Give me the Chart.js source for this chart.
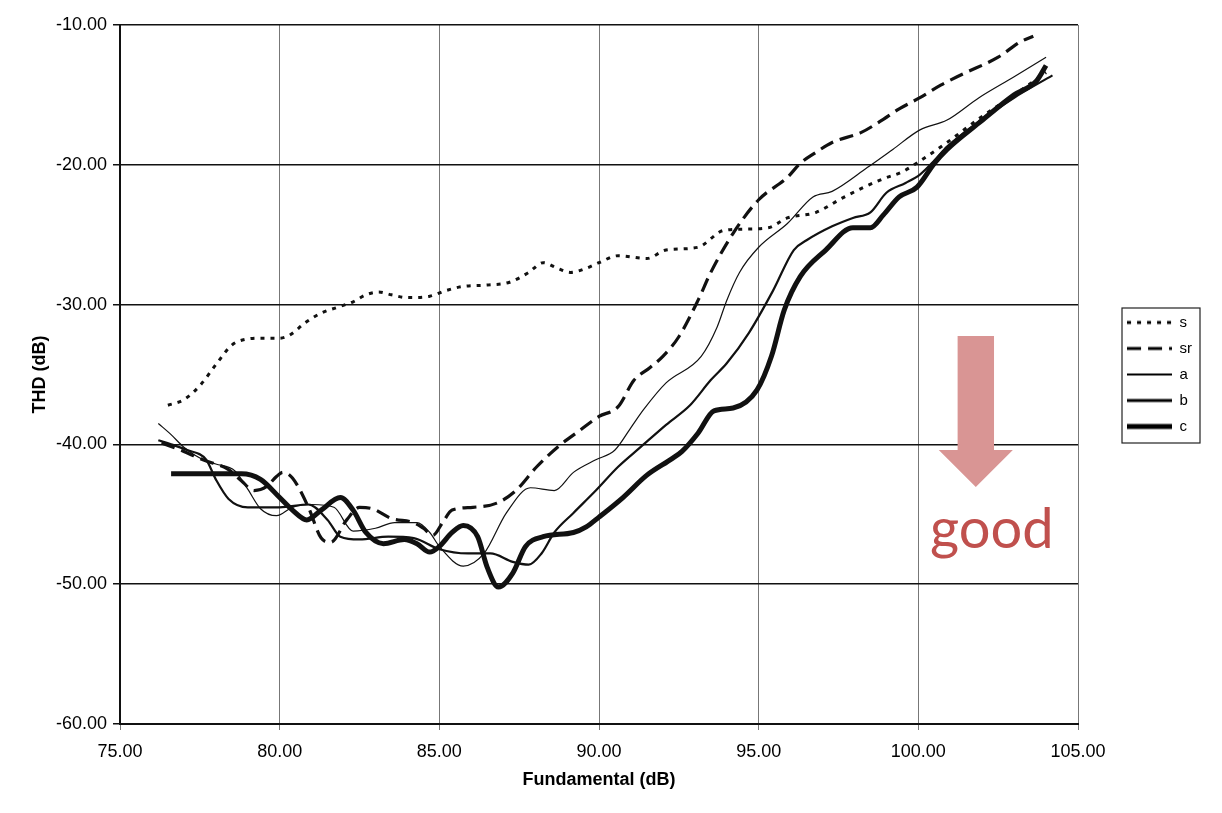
<!DOCTYPE html>
<html>
<head>
<meta charset="utf-8">
<title>THD vs Fundamental</title>
<script src="https://cdn.jsdelivr.net/npm/chart.js@4.4.1/dist/chart.umd.min.js"></script>
<style>
  html, body { margin: 0; padding: 0; background: #fff; }
</style>
</head>
<body>
<canvas id="thd" width="1222" height="813"></canvas>
<script>
// values, [fundamental dB, THD dB]
const seriesNames = ["s", "sr", "a", "b", "c"];

const sPts = [[76.5,-37.2],[77.0,-36.8],[77.5,-35.8],[78.0,-34.3],[78.5,-32.9],[78.9,-32.5],[79.5,-32.4],[80.0,-32.4],
  [80.3,-32.2],[80.8,-31.3],[81.3,-30.6],[81.8,-30.2],[82.3,-29.8],[82.7,-29.3],[83.1,-29.1],[83.5,-29.3],[84.0,-29.5],
  [84.7,-29.4],[85.2,-29.0],[85.75,-28.7],[86.5,-28.6],[87.2,-28.4],[87.8,-27.7],[88.25,-27.0],[88.7,-27.4],[89.1,-27.7],
  [89.6,-27.4],[90.0,-27.0],[90.6,-26.5],[91.5,-26.7],[92.1,-26.1],[93.1,-25.9],[93.9,-24.7],[94.6,-24.6],[95.3,-24.5],
  [95.9,-23.8],[96.8,-23.4],[97.6,-22.4],[98.3,-21.6],[98.9,-21.0],[99.5,-20.5],[100.0,-19.8],[100.9,-18.4],[101.9,-16.7],
  [103.0,-15.0],[104.0,-13.4]];

const srPts = [[76.3,-39.9],[77.0,-40.5],[77.6,-41.1],[78.4,-41.8],[78.8,-42.6],[79.2,-43.3],[79.6,-43.0],[79.9,-42.3],
  [80.1,-42.0],[80.4,-42.4],[80.9,-44.5],[81.3,-46.7],[81.6,-47.0],[82.1,-45.4],[82.5,-44.5],[82.9,-44.6],[83.5,-45.3],
  [84.2,-45.6],[84.5,-46.0],[84.8,-46.5],[85.1,-45.6],[85.4,-44.7],[86.05,-44.5],[86.8,-44.2],[87.4,-43.3],[88.05,-41.6],
  [88.7,-40.2],[89.4,-39.0],[90.0,-38.0],[90.6,-37.3],[91.1,-35.4],[91.6,-34.5],[92.0,-33.7],[92.5,-32.3],[93.1,-29.7],
  [93.5,-27.7],[94.2,-24.9],[95.0,-22.5],[95.9,-20.9],[96.3,-19.9],[96.8,-19.1],[97.3,-18.4],[98.2,-17.7],[98.8,-16.9],
  [99.4,-16.0],[100.05,-15.2],[100.7,-14.3],[101.4,-13.5],[102.5,-12.3],[103.2,-11.2],[103.6,-10.8]];

const aPts = [[76.2,-38.5],[76.6,-39.3],[77.0,-40.2],[77.6,-41.1],[78.0,-41.4],[78.6,-41.9],[79.0,-43.2],[79.4,-44.6],
  [79.9,-45.1],[80.4,-44.5],[81.0,-44.3],[81.7,-44.5],[82.3,-46.2],[83.0,-46.0],[83.6,-45.6],[84.3,-45.6],[84.7,-46.3],
  [85.0,-47.3],[85.75,-48.7],[86.4,-47.8],[87.1,-44.9],[87.85,-43.1],[88.6,-43.3],[89.2,-42.0],[89.9,-41.1],[90.5,-40.4],
  [91.0,-38.8],[91.4,-37.5],[92.1,-35.6],[93.2,-33.7],[93.7,-31.6],[94.0,-29.7],[94.4,-27.7],[95.0,-25.9],[95.9,-24.2],
  [96.7,-22.3],[97.3,-21.9],[98.4,-20.2],[99.2,-18.9],[100.05,-17.5],[100.9,-16.8],[101.9,-15.2],[103.0,-13.7],[104.0,-12.3]];

const bPts = [[76.2,-39.7],[76.6,-40.0],[77.1,-40.4],[77.7,-41.1],[78.0,-42.5],[78.4,-43.9],[79.0,-44.5],[80.0,-44.5],
  [80.9,-44.3],[81.5,-45.4],[81.9,-46.6],[82.5,-46.8],[83.4,-46.6],[84.2,-46.7],[85.0,-47.5],[85.9,-47.8],[86.6,-47.8],
  [87.3,-48.4],[87.8,-48.6],[88.2,-47.8],[88.6,-46.3],[89.2,-44.9],[89.9,-43.3],[90.6,-41.6],[91.3,-40.2],[92.1,-38.6],
  [92.85,-37.2],[93.5,-35.4],[94.0,-34.2],[94.7,-32.0],[95.45,-29.0],[96.1,-26.1],[96.5,-25.4],[97.3,-24.4],[97.95,-23.8],
  [98.5,-23.4],[99.0,-22.0],[99.6,-21.3],[100.05,-20.7],[100.5,-19.7],[100.9,-18.7],[101.9,-16.9],[103.0,-15.2],[104.2,-13.6]];

const cPts = [[76.6,-42.1],[77.5,-42.1],[78.3,-42.1],[78.8,-42.1],[79.4,-42.5],[80.0,-43.8],[80.4,-44.7],[80.85,-45.4],
  [81.3,-44.7],[81.9,-43.8],[82.3,-44.7],[82.7,-46.3],[83.25,-47.1],[83.9,-46.8],[84.3,-47.1],[84.7,-47.7],[85.0,-47.3],
  [85.4,-46.3],[85.75,-45.8],[86.2,-46.6],[86.5,-48.8],[86.85,-50.2],[87.3,-49.2],[87.7,-47.3],[88.25,-46.6],[89.2,-46.3],
  [89.6,-45.9],[90.0,-45.2],[90.75,-43.8],[91.5,-42.2],[92.3,-41.0],[92.6,-40.5],[93.1,-39.2],[93.6,-37.6],[94.2,-37.4],
  [94.95,-36.1],[95.4,-33.7],[95.8,-30.4],[96.3,-28.0],[97.1,-26.1],[97.95,-24.5],[98.5,-24.5],[98.9,-23.6],[99.4,-22.3],
  [99.96,-21.6],[100.5,-19.9],[100.9,-18.9],[101.9,-17.0],[103.0,-15.0],[103.7,-14.0],[104.0,-12.9]];

const allPts = [sPts, srPts, aPts, bPts, cPts];
const lineWidths = [3, 3.2, 1.2, 2.2, 5];
const legendWidths = [3, 3.2, 1.8, 2.8, 5];
const lineDashes = [[4, 6], [14, 7], [], [], []];

const xTicks = [75, 80, 85, 90, 95, 100, 105];
const yTicks = [-60, -50, -40, -30, -20, -10];

// "good" arrow, in data units
const arrow = { x: 101.8, top: -32.25, neck: -40.4, tip: -43.05, shaft: 0.57, head: 1.16 };
const goodLabel = { text: "good", x: 102.3, y: -47.4 };

const toXY = pts => pts.map(p => ({ x: p[0], y: p[1] }));

// little line samples for the legend, so the dashes show there too
function legendSample(i) {
  const c = document.createElement("canvas");
  c.width = 45;
  c.height = 8;
  const g = c.getContext("2d");
  g.strokeStyle = "#000";
  g.lineWidth = legendWidths[i];
  g.setLineDash(lineDashes[i]);
  g.beginPath();
  g.moveTo(0, 4);
  g.lineTo(45, 4);
  g.stroke();
  return c;
}

const legendBox = {
  id: "legendBox",
  afterDraw(chart) {
    const lg = chart.legend;
    const hb = lg.legendHitBoxes;
    if (!hb || !hb.length) return;
    const first = hb[0], last = hb[hb.length - 1];
    const ctx = chart.ctx;
    ctx.save();
    ctx.strokeStyle = "#222";
    ctx.lineWidth = 1.2;
    const x0 = first.left - 5, y0 = first.top - 7;
    ctx.strokeRect(x0, y0, lg.right - 2 - x0, last.top + last.height + 9 - y0);
    ctx.restore();
  }
};

const goodArrow = {
  id: "goodArrow",
  afterDraw(chart) {
    const xs = chart.scales.x, ys = chart.scales.y, ctx = chart.ctx;
    const cx = xs.getPixelForValue(arrow.x);
    const sw = xs.getPixelForValue(arrow.x + arrow.shaft) - cx;
    const hw = xs.getPixelForValue(arrow.x + arrow.head) - cx;
    const yt = ys.getPixelForValue(arrow.top);
    const yn = ys.getPixelForValue(arrow.neck);
    const yp = ys.getPixelForValue(arrow.tip);
    ctx.save();
    ctx.fillStyle = "#d99594";
    ctx.beginPath();
    ctx.moveTo(cx - sw, yt);
    ctx.lineTo(cx + sw, yt);
    ctx.lineTo(cx + sw, yn);
    ctx.lineTo(cx + hw, yn);
    ctx.lineTo(cx, yp);
    ctx.lineTo(cx - hw, yn);
    ctx.lineTo(cx - sw, yn);
    ctx.closePath();
    ctx.fill();
    ctx.fillStyle = "#c0504d";
    ctx.font = "56px Lato, 'Open Sans', sans-serif";
    ctx.textAlign = "center";
    ctx.textBaseline = "alphabetic";
    ctx.fillText(goodLabel.text, xs.getPixelForValue(goodLabel.x), ys.getPixelForValue(goodLabel.y));
    ctx.restore();
  }
};

const axisFont = { family: "'Liberation Sans', Arial, sans-serif", size: 18 };
const titleFont = { family: "'Liberation Sans', Arial, sans-serif", size: 18, weight: "bold" };

new Chart(document.getElementById("thd"), {
  type: "line",
  data: {
    datasets: seriesNames.map((name, i) => ({
      label: name,
      data: toXY(allPts[i]),
      borderColor: "#111",
      backgroundColor: "#111",
      borderWidth: lineWidths[i],
      borderDash: lineDashes[i],
      pointRadius: 0,
      pointStyle: legendSample(i),
      fill: false,
      cubicInterpolationMode: "monotone"
    }))
  },
  options: {
    responsive: false,
    animation: false,
    devicePixelRatio: 1,
    layout: { padding: { top: 25, right: 20, bottom: 0, left: 0 } },
    plugins: {
      tooltip: { enabled: false },
      legend: {
        position: "right",
        fullSize: false,
        labels: {
          usePointStyle: true,
          pointStyleWidth: 45,
          padding: 11,
          color: "#000",
          font: { family: "'Liberation Sans', Arial, sans-serif", size: 15 }
        }
      }
    },
    scales: {
      x: {
        type: "linear",
        min: 75,
        max: 105,
        afterBuildTicks: s => { s.ticks = xTicks.map(v => ({ value: v })); },
        afterFit: s => { s.height = 89; },
        ticks: { font: axisFont, color: "#000", padding: 11, maxRotation: 0, callback: v => v.toFixed(2) },
        grid: { color: "#777", lineWidth: 1, tickLength: 6 },
        border: { color: "#111", width: 2 },
        title: { display: true, text: "Fundamental (dB)", font: titleFont, color: "#000", padding: { top: 0, bottom: 22 } }
      },
      y: {
        min: -60,
        max: -10,
        afterBuildTicks: s => { s.ticks = yTicks.map(v => ({ value: v })); },
        afterFit: s => { s.width = 120; },
        ticks: { font: axisFont, color: "#000", padding: 6, callback: v => v.toFixed(2) },
        grid: { color: "#111", lineWidth: 1.5, tickLength: 7 },
        border: { color: "#111", width: 2 },
        title: { display: true, text: "THD (dB)", font: titleFont, color: "#000", padding: { top: 29, bottom: 0 } }
      },
      gap: {
        position: "right",
        display: true,
        grid: { display: false },
        border: { display: false },
        ticks: { display: false },
        afterFit: s => { s.width = 38; }
      }
    }
  },
  plugins: [legendBox, goodArrow]
});
</script>
</body>
</html>
